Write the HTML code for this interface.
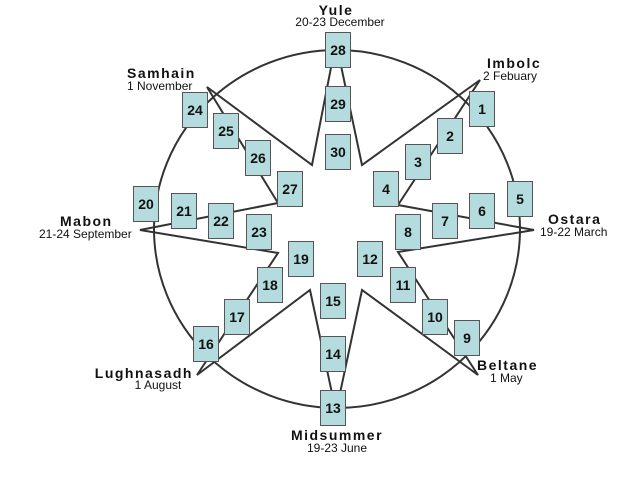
<!DOCTYPE html>
<html><head><style>
body{margin:0;background:#fff;width:640px;height:480px;overflow:hidden;position:relative;font-family:"Liberation Sans",Arial,sans-serif}
.b{position:absolute;width:26px;height:36px;background:#b4dcdf;border:1px solid #555;box-sizing:border-box;font:bold 14px "Liberation Sans",sans-serif;color:#111;display:flex;align-items:center;justify-content:center}
svg{position:absolute;left:0;top:0}
</style></head><body>
<svg width="640" height="480">
<ellipse cx="337" cy="229" rx="183" ry="179" fill="none" stroke="#333" stroke-width="2"/>
<polygon points="336,42 362,165 480,80 398,205 534,230 398,252 478,375 362,290 336,412 310,290 197,375 278,253 140,230 278,203 207,87 312,165" fill="none" stroke="#333" stroke-width="2"/>
<g font-family="Liberation Sans, sans-serif" fill="#111">
<text x="336" y="15" text-anchor="middle" font-weight="bold" font-size="14" letter-spacing="1.5">Yule</text>
<text x="340" y="26" text-anchor="middle" font-size="12">20-23 December</text>
<text x="127" y="78" font-weight="bold" font-size="14" letter-spacing="1.5">Samhain</text>
<text x="127" y="90" font-size="12">1 November</text>
<text x="487" y="68" font-weight="bold" font-size="14" letter-spacing="1.5">Imbolc</text>
<text x="483" y="80" font-size="12">2 Febuary</text>
<text x="548" y="224" font-weight="bold" font-size="14" letter-spacing="1.5">Ostara</text>
<text x="540" y="236" font-size="12">19-22 March</text>
<text x="477" y="370" font-weight="bold" font-size="14" letter-spacing="1.5">Beltane</text>
<text x="490" y="382" font-size="12">1 May</text>
<text x="337" y="440" text-anchor="middle" font-weight="bold" font-size="14" letter-spacing="1.5">Midsummer</text>
<text x="337" y="452" text-anchor="middle" font-size="12">19-23 June</text>
<text x="193" y="378" text-anchor="end" font-weight="bold" font-size="14" letter-spacing="1.5">Lughnasadh</text>
<text x="158" y="389" text-anchor="middle" font-size="12">1 August</text>
<text x="60" y="226" font-weight="bold" font-size="14" letter-spacing="1.5">Mabon</text>
<text x="39" y="238" font-size="12">21-24 September</text>
</g>
</svg>
<div class="b" style="left:325px;top:32px">28</div>
<div class="b" style="left:325px;top:86px">29</div>
<div class="b" style="left:325px;top:134px">30</div>
<div class="b" style="left:182px;top:92px">24</div>
<div class="b" style="left:213px;top:113px">25</div>
<div class="b" style="left:245px;top:140px">26</div>
<div class="b" style="left:277px;top:171px">27</div>
<div class="b" style="left:469px;top:91px">1</div>
<div class="b" style="left:437px;top:118px">2</div>
<div class="b" style="left:405px;top:144px">3</div>
<div class="b" style="left:373px;top:171px">4</div>
<div class="b" style="left:507px;top:181px">5</div>
<div class="b" style="left:469px;top:193px">6</div>
<div class="b" style="left:432px;top:203px">7</div>
<div class="b" style="left:395px;top:214px">8</div>
<div class="b" style="left:454px;top:320px">9</div>
<div class="b" style="left:422px;top:299px">10</div>
<div class="b" style="left:390px;top:267px">11</div>
<div class="b" style="left:357px;top:241px">12</div>
<div class="b" style="left:320px;top:390px">13</div>
<div class="b" style="left:320px;top:336px">14</div>
<div class="b" style="left:320px;top:283px">15</div>
<div class="b" style="left:193px;top:326px">16</div>
<div class="b" style="left:224px;top:299px">17</div>
<div class="b" style="left:257px;top:267px">18</div>
<div class="b" style="left:288px;top:241px">19</div>
<div class="b" style="left:133px;top:186px">20</div>
<div class="b" style="left:171px;top:193px">21</div>
<div class="b" style="left:208px;top:203px">22</div>
<div class="b" style="left:246px;top:214px">23</div>
</body></html>
